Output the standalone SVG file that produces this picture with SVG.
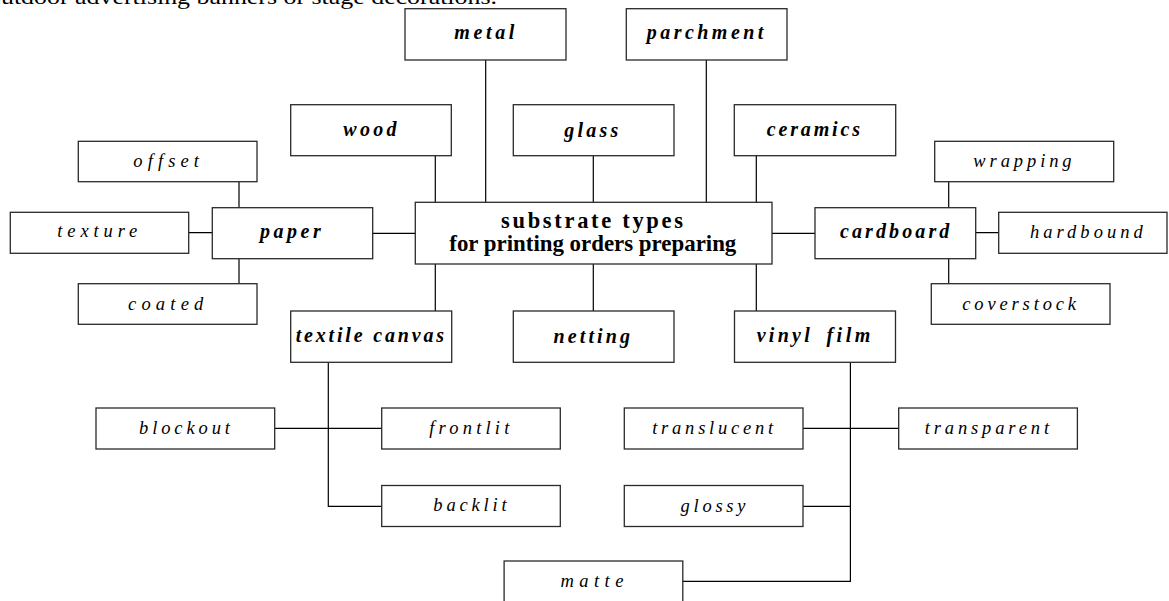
<svg xmlns="http://www.w3.org/2000/svg" width="1169" height="601" viewBox="0 0 1169 601">
<style>
.box{fill:#fff;stroke:#2a2a2a;stroke-width:1.3}
.ln{stroke:#000;stroke-width:1.2;fill:none}
.b{font-family:"Liberation Serif",serif;font-size:20px;font-weight:bold;font-style:italic;fill:#000}
.r{font-family:"Liberation Serif",serif;font-size:18.5px;font-style:italic;fill:#000}
.c{font-family:"Liberation Serif",serif;font-size:22.5px;font-weight:bold;fill:#000}
.top{font-family:"Liberation Serif",serif;font-size:22px;fill:#000}
</style>
<rect width="1169" height="601" fill="#fff"/>
<text class="top" x="-12" y="4" textLength="509" lengthAdjust="spacingAndGlyphs">outdoor advertising banners or stage decorations.</text>
<g id="connectors">
<path class="ln" d="M435.3 155.7V202.3M485.7 60V202.3M593.3 155.7V202.3M706.3 60V202.3M756.3 155.7V202.3"/>
<path class="ln" d="M372.7 233.3H415.3M772 233.3H815"/>
<path class="ln" d="M239 181.7V207.7M188.7 232.7H212.3M239 258.7V283.7"/>
<path class="ln" d="M948.7 181.7V207.7M975.7 232.7H998.7M948.7 258.7V283.7"/>
<path class="ln" d="M435.3 264V311M593.3 264V311M756.3 264V311"/>
<path class="ln" d="M328.3 362.3V506.3H381.7M274.7 428.3H381.7"/>
<path class="ln" d="M850.4 362.3V581.3H682.8M803 428.3H898.7M803 506.3H850.4"/>
</g>
<g id="center"><rect class="box" x="415.3" y="202.3" width="356.7" height="61.7"/>
<text class="c" x="501" y="227.7" textLength="182" lengthAdjust="spacing">substrate types</text>
<text class="c" x="449.3" y="251" textLength="287" lengthAdjust="spacingAndGlyphs">for printing orders preparing</text></g>
<g id="metal"><rect class="box" x="405" y="8.7" width="161" height="51.3"/><text class="b" x="454.3" y="39.3" textLength="60" lengthAdjust="spacing">metal</text></g>
<g id="parchment"><rect class="box" x="626.3" y="8.7" width="160.7" height="51.3"/><text class="b" x="646.7" y="39.3" textLength="116.7" lengthAdjust="spacing">parchment</text></g>
<g id="wood"><rect class="box" x="290.7" y="104.7" width="160.6" height="51"/><text class="b" x="343.3" y="135.5" textLength="53.3" lengthAdjust="spacing">wood</text></g>
<g id="glass"><rect class="box" x="513.3" y="104.7" width="160.7" height="51"/><text class="b" x="564.3" y="136.5" textLength="54" lengthAdjust="spacing">glass</text></g>
<g id="ceramics"><rect class="box" x="734.3" y="104.7" width="161.4" height="51"/><text class="b" x="766.7" y="136" textLength="93.3" lengthAdjust="spacing">ceramics</text></g>
<g id="paper"><rect class="box" x="212.3" y="207.7" width="160.4" height="51"/><text class="b" x="260" y="238.3" textLength="60.7" lengthAdjust="spacing">paper</text></g>
<g id="cardboard"><rect class="box" x="815" y="207.7" width="160.7" height="51"/><text class="b" x="840" y="238.3" textLength="109.3" lengthAdjust="spacing">cardboard</text></g>
<g id="offset"><rect class="box" x="78.3" y="141.3" width="178.7" height="40.4"/><text class="r" x="133.3" y="166.7" textLength="65.7" lengthAdjust="spacing">offset</text></g>
<g id="texture"><rect class="box" x="10.3" y="212.3" width="178.4" height="41"/><text class="r" x="57.3" y="237.3" textLength="80" lengthAdjust="spacing">texture</text></g>
<g id="coated"><rect class="box" x="78.3" y="283.7" width="178.7" height="40.6"/><text class="r" x="128" y="310" textLength="75.3" lengthAdjust="spacing">coated</text></g>
<g id="wrapping"><rect class="box" x="934.7" y="141.3" width="179" height="40.4"/><text class="r" x="973.3" y="166.7" textLength="98.3" lengthAdjust="spacing">wrapping</text></g>
<g id="hardbound"><rect class="box" x="998.7" y="212.3" width="168.3" height="41"/><text class="r" x="1030" y="237.5" textLength="112.7" lengthAdjust="spacing">hardbound</text></g>
<g id="coverstock"><rect class="box" x="931.3" y="283.7" width="178.7" height="40.6"/><text class="r" x="962.3" y="310" textLength="113.7" lengthAdjust="spacing">coverstock</text></g>
<g id="textile"><rect class="box" x="290.7" y="311" width="161" height="51.3"/><text class="b" x="295.7" y="341.7" textLength="148.3" lengthAdjust="spacing">textile canvas</text></g>
<g id="netting"><rect class="box" x="513.3" y="311" width="160.7" height="51.3"/><text class="b" x="553.5" y="342.5" textLength="76.5" lengthAdjust="spacing">netting</text></g>
<g id="vinyl"><rect class="box" x="734.5" y="311" width="161" height="51.3"/><text class="b" y="342"><tspan x="756.7" textLength="53" lengthAdjust="spacing">vinyl</tspan> <tspan x="826.4" textLength="44" lengthAdjust="spacing">film</tspan></text></g>
<g id="blockout"><rect class="box" x="96" y="408" width="178.7" height="41"/><text class="r" x="139" y="434" textLength="91" lengthAdjust="spacing">blockout</text></g>
<g id="frontlit"><rect class="box" x="381.7" y="408" width="178.6" height="41"/><text class="r" x="429.3" y="434" textLength="80" lengthAdjust="spacing">frontlit</text></g>
<g id="backlit"><rect class="box" x="381.7" y="485.5" width="178.6" height="41"/><text class="r" x="433.3" y="511" textLength="73.4" lengthAdjust="spacing">backlit</text></g>
<g id="translucent"><rect class="box" x="624.3" y="408" width="178.7" height="41"/><text class="r" x="652.2" y="434" textLength="121" lengthAdjust="spacing">translucent</text></g>
<g id="transparent"><rect class="box" x="898.7" y="408" width="178.7" height="41"/><text class="r" x="924.7" y="434" textLength="124.4" lengthAdjust="spacing">transparent</text></g>
<g id="glossy"><rect class="box" x="624.3" y="485.5" width="178.7" height="41"/><text class="r" x="680.5" y="511.5" textLength="65" lengthAdjust="spacing">glossy</text></g>
<g id="matte"><rect class="box" x="504.1" y="561" width="178.7" height="41"/><text class="r" x="560.4" y="586.7" textLength="63" lengthAdjust="spacing">matte</text></g>
</svg>
